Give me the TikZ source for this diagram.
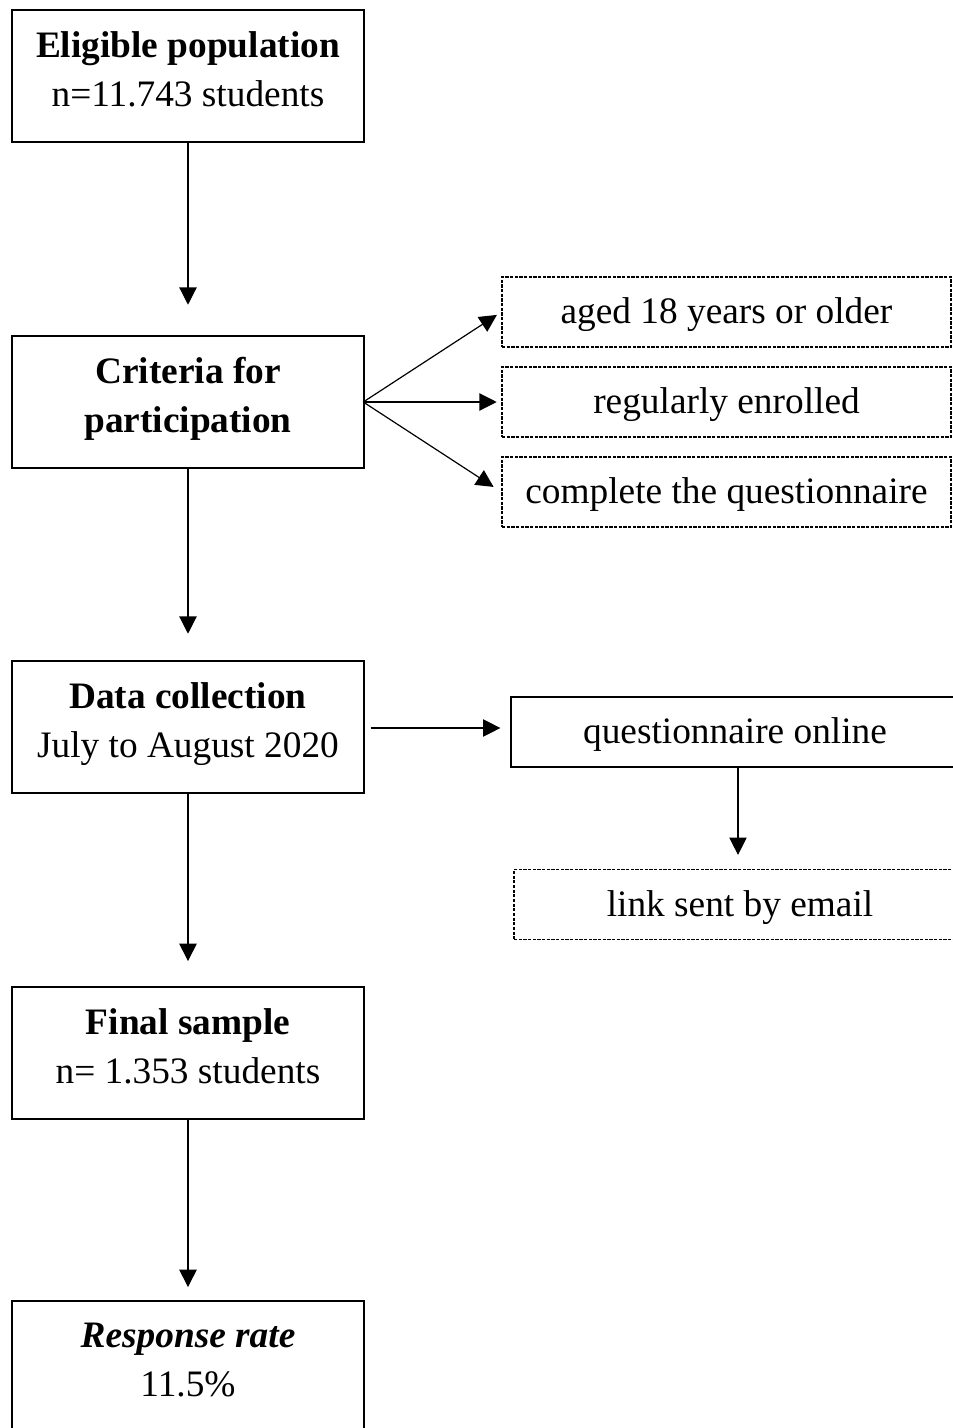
\documentclass[tikz,border=0pt]{standalone}
\usepackage{fontspec}
\setmainfont{Liberation Serif}
\usetikzlibrary{arrows.meta}
\begin{document}
\begin{tikzpicture}[x=0.75pt,y=-0.75pt,
  txt/.style={font=\fontsize{28}{36.75}\selectfont, inner sep=0pt, align=center},
  mainbox/.style={draw, line width=0.9pt, minimum width=264pt, minimum height=99pt, inner sep=0pt},
  dbox/.style={draw, dash pattern=on 2.4pt off 1.1pt, line width=0.9pt, minimum width=336.75pt, minimum height=52.5pt, inner sep=0pt},
  sbox/.style={draw, line width=0.9pt, minimum height=52.5pt, inner sep=0pt},
  arr/.style={-{Triangle[length=13pt,width=13pt]}, line width=0.9pt}]
\clip (0,0) rectangle (953,1428);
\fill[white] (0,0) rectangle (953,1428);

\node[mainbox] (b1) at (188,76) {};
\node[mainbox] (b2) at (188,402) {};
\node[mainbox] (b3) at (188,727) {};
\node[mainbox] (b4) at (188,1053) {};
\node[mainbox] (b5) at (188,1367) {};
\node[txt] (t1) at ([yshift=5.25pt]b1.center) {\textbf{Eligible population}\\n=11.743 students};
\node[txt] (t2) at ([yshift=2.5pt]b2.center) {\textbf{Criteria for}\\\textbf{participation}};
\node[txt] (t3) at ([yshift=2.25pt]b3.center) {\textbf{Data collection}\\July to August 2020};
\node[txt] (t4) at ([yshift=5.25pt]b4.center) {\textbf{Final sample}\\n= 1.353 students};
\node[txt] (t5) at ([yshift=5.25pt]b5.center) {\textbf{\textit{Response rate}}\\11.5\%};

\node[dbox] (d1) at (726.5,312) {};
\node[dbox] (d2) at (726.5,402) {};
\node[dbox] (d3) at (726.5,492) {};
\node[sbox, minimum width=336pt] (q) at (735,732) {};
\node[dbox, minimum width=339pt] (l) at (740,904.5) {};
\node[txt] (s1) at ([yshift=-2.25pt]d1.center) {aged 18 years or older};
\node[txt] (s2) at ([yshift=-2.25pt]d2.center) {regularly enrolled};
\node[txt] (s3) at ([yshift=-2.25pt]d3.center) {complete the questionnaire};
\node[txt] (s4) at ([yshift=-2.25pt]q.center) {questionnaire online};
\node[txt] (s5) at ([yshift=-2.25pt]l.center) {link sent by email};

\draw[arr, shorten >=23pt] (b1.south) -- (b2.north);
\draw[arr, shorten >=20pt] (b2.south) -- (b3.north);
\draw[arr, shorten >=19pt] (b3.south) -- (b4.north);
\draw[arr, shorten >=10pt] (b4.south) -- (b5.north);

\coordinate (fan) at ([xshift=-1pt]b2.east);
\draw[arr, shorten >=4pt] (fan) -- (d1.west);
\draw[arr, shorten >=3.5pt] (fan) -- (d2.west);
\draw[arr, shorten >=7pt] (fan) -- (d3.west);

\draw[arr, shorten <=4.5pt, shorten >=7.5pt] ([yshift=-0.75pt]b3.east) -- ([yshift=-0.75pt]b3.east -| q.west);
\draw[arr, shorten >=10.5pt] (q.south -| 738,0) -- (l.north -| 738,0);
\end{tikzpicture}
\end{document}
